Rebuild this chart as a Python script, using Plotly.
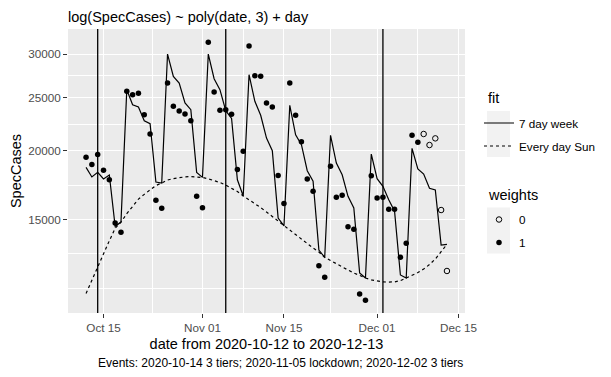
import pandas as pd
import plotly.graph_objects as go

# ---------------- data ----------------
dates = pd.date_range("2020-10-12", "2020-12-13", freq="D")

spec_cases = [19470, 18900, 19710, 18440, 17730, 14780, 14220,
              25680, 25310, 25460, 23280, 21470, 16260, 15720,
              26590, 24110, 23640, 23350, 22700, 16530, 15760,
              31530, 25600, 23710, 23770, 23330, 18510, 19970,
              31050, 27410, 27340, 24450, 24040, 18050, 16050,
              26590, 23220, 20790, 17780, 16880, 12360, 11770,
              18750, 16460, 16600, 14550, 14400, 10980, 10690,
              18020, 16410, 16460, 15660, 15660, 12800, 13575,
              21350, 20730, 21470, 20500, 21080, 15610, 12090]

weights = [1, 1, 1, 1, 1, 1, 1,
           1, 1, 1, 1, 1, 1, 1,
           1, 1, 1, 1, 1, 1, 1,
           1, 1, 1, 1, 1, 1, 1,
           1, 1, 1, 1, 1, 1, 1,
           1, 1, 1, 1, 1, 1, 1,
           1, 1, 1, 1, 1, 1, 1,
           1, 1, 1, 1, 1, 1, 1,
           1, 1, 0, 0, 0, 0, 0]

fit_7day = [18670, 17930, 18280, 17780, 18080, 14580, 14840,
            25850, 24270, 24040, 22690, 22420, 17550, 17480,
            30020, 27340, 26590, 24450, 23770, 18280, 17900,
            30020, 27070, 25850, 23670, 22910, 17720, 16560,
            27530, 24620, 23220, 21110, 20020, 15090, 14600,
            24210, 21400, 20530, 18410, 17610, 13200, 12800,
            21350, 19010, 18100, 16530, 15740, 11990, 11740,
            19740, 17800, 17240, 16300, 15530, 11890, 11740,
            20220, 18540, 18150, 17100, 16980, 13480, 13520]

fit_sunday = [11000, 11630, 12350, 13030, 13720, 14460, 14840,
              15370, 15870, 16340, 16670, 16980, 17300, 17480,
              17700, 17810, 17890, 17940, 17960, 17930, 17890,
              17790, 17680, 17520, 17330, 17120, 16870, 16560,
              16310, 16040, 15770, 15480, 15190, 14910, 14600,
              14320, 14060, 13790, 13560, 13310, 13090, 12800,
              12630, 12450, 12290, 12140, 11990, 11860, 11740,
              11650, 11590, 11550, 11540, 11550, 11610, 11740,
              11860, 12010, 12190, 12420, 12710, 13090, 13520]

event_dates = ["2020-10-14", "2020-11-05", "2020-12-02"]
event_labels = ["3 tiers", "lockdown", "3 tiers"]

x_tick_vals = ["2020-10-15", "2020-11-01", "2020-11-15", "2020-12-01", "2020-12-15"]
x_tick_text = ["Oct 15", "Nov 01", "Nov 15", "Dec 01", "Dec 15"]
x_minor_vals = ["2020-10-23 12:00", "2020-11-08", "2020-11-23", "2020-12-08"]
y_tick_vals = [15000, 20000, 25000, 30000]
y_tick_text = ["15000", "20000", "25000", "30000"]
y_minor_vals = [11250, 12990, 17320, 22360, 27386]

# ---------------- figure ----------------
# The page body adds an 8px margin, so the figure is 16px smaller than the window.
W, H = 595, 361
ML, MR, MT, MB = 60, 138, 21, 56
PW, PH = W - ML - MR, H - MT - MB


def px_x(sx):  # screen x -> paper x
    return (sx - 8 - ML) / PW


def px_y(sy):  # screen y -> paper y
    return (H - MB - (sy - 8)) / PH


FONT = "Liberation Sans, Arial, sans-serif"
df = pd.DataFrame({"date": dates, "cases": spec_cases, "w": weights})
w0 = df[df.w == 0]
w1 = df[df.w == 1]

fig = go.Figure()

fig.add_trace(go.Scatter(
    x=w0.date, y=w0.cases, mode="markers", name="0", legend="legend2", legendgroup="w0",
    marker=dict(symbol="circle-open", size=5.5, color="black", line=dict(width=1, color="black")),
))
fig.add_trace(go.Scatter(
    x=w1.date, y=w1.cases, mode="markers", name="1", legend="legend2", legendgroup="w1",
    marker=dict(symbol="circle", size=5.5, color="black"),
))
fig.add_trace(go.Scatter(
    x=dates, y=fit_7day, mode="lines", name="7 day week", legend="legend",
    legendgroup="a", line=dict(color="black", width=1.2),
))
fig.add_trace(go.Scatter(
    x=dates, y=fit_sunday, mode="lines", name="Every day Sun", legend="legend",
    legendgroup="b", line=dict(color="black", width=1.2, dash="3px,3px"),
))

for d in event_dates:
    fig.add_shape(type="line", xref="x", yref="paper", x0=d, x1=d, y0=0, y1=1,
                  line=dict(color="black", width=1.3), layer="above")

# legend key backgrounds
for (sy0, sy1) in [(111, 157), (207.5, 253.5)]:
    fig.add_shape(type="rect", xref="paper", yref="paper",
                  x0=px_x(487), x1=px_x(510), y0=px_y(sy1), y1=px_y(sy0),
                  fillcolor="#F2F2F2", line=dict(width=0), layer="below")

caption = "Events: " + "; ".join(f"{d} {l}" for d, l in zip(event_dates, event_labels))
fig.add_annotation(text=caption, xref="paper", yref="paper", x=1, y=px_y(363),
                   xanchor="right", yanchor="middle", showarrow=False,
                   font=dict(size=12, color="black", family=FONT))
fig.add_annotation(text="fit", xref="paper", yref="paper", x=px_x(486), y=px_y(98),
                   xanchor="left", yanchor="middle", showarrow=False,
                   font=dict(size=14.5, color="black", family=FONT))
fig.add_annotation(text="weights", xref="paper", yref="paper", x=px_x(486), y=px_y(195),
                   xanchor="left", yanchor="middle", showarrow=False,
                   font=dict(size=14.5, color="black", family=FONT))

fig.update_layout(
    width=W, height=H,
    margin=dict(l=ML, r=MR, t=MT, b=MB, autoexpand=False),
    paper_bgcolor="white", plot_bgcolor="#EBEBEB",
    font=dict(family=FONT, color="black"),
    title=dict(text="log(SpecCases) ~ poly(date, 3) + day", x=0, xref="paper",
               xanchor="left", y=1 - 8.5 / H, yref="container", yanchor="middle",
               font=dict(size=14.5, color="black", family=FONT)),
    xaxis=dict(
        type="date", range=["2020-10-08 21:36", "2020-12-16 02:24"], automargin=False,
        tickmode="array", tickvals=x_tick_vals, ticktext=x_tick_text,
        ticks="outside", ticklen=4, tickwidth=1, tickcolor="#333333",
        tickfont=dict(size=11.7, color="#4D4D4D"),
        showgrid=True, gridcolor="white", gridwidth=1.2, zeroline=False,
        showline=False,
        minor=dict(tickmode="array", tickvals=x_minor_vals, showgrid=True,
                   gridcolor="white", gridwidth=0.6, ticks=""),
        title=dict(text="date from 2020-10-12 to 2020-12-13", standoff=5,
                   font=dict(size=14.5, color="black")),
    ),
    yaxis=dict(
        type="log", range=[4.0059, 4.5230], automargin=False,
        tickmode="array", tickvals=y_tick_vals, ticktext=y_tick_text,
        ticks="outside", ticklen=4, tickwidth=1, tickcolor="#333333",
        tickfont=dict(size=11.7, color="#4D4D4D"),
        showgrid=True, gridcolor="white", gridwidth=1.2, zeroline=False,
        showline=False,
        minor=dict(tickmode="array", tickvals=y_minor_vals, showgrid=True,
                   gridcolor="white", gridwidth=0.6, ticks=""),
        title=dict(text="SpecCases", standoff=7.5, font=dict(size=14.5, color="black")),
    ),
    legend=dict(
        x=px_x(479), xanchor="left", y=px_y(108.5), yanchor="top",
        bgcolor="rgba(0,0,0,0)", font=dict(size=11.7, color="black"),
        tracegroupgap=4,
    ),
    legend2=dict(
        x=px_x(479), xanchor="left", y=px_y(205), yanchor="top",
        bgcolor="rgba(0,0,0,0)", font=dict(size=11.7, color="black"),
        tracegroupgap=4,
    ),
)

fig.write_html("out.html")
